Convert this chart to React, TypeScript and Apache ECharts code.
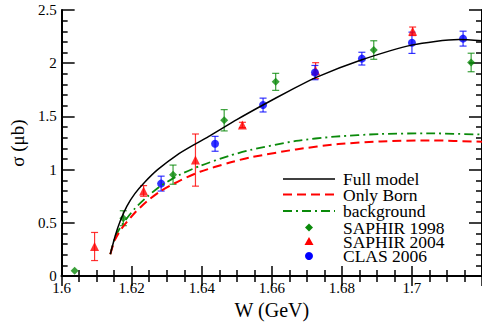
import React, { useEffect, useRef } from "react";
import * as echarts from "echarts";

// ---- Data ----
const FULL_W = [1.6139, 1.6153, 1.6167, 1.6186, 1.6209, 1.6237, 1.6274, 1.633, 1.6386, 1.6423, 1.65, 1.6576, 1.665, 1.6725, 1.6855, 1.6999, 1.7134, 1.72];
const FULL_S = [0.206, 0.379, 0.515, 0.655, 0.775, 0.882, 1.0, 1.14, 1.25, 1.318, 1.47, 1.61, 1.74, 1.865, 2.03, 2.17, 2.222, 2.21];

const BORN_W = [1.6139, 1.6152, 1.6172, 1.6209, 1.6246, 1.6283, 1.6339, 1.6395, 1.6478, 1.6539, 1.6669, 1.679, 1.6911, 1.705, 1.72];
const BORN_S = [0.206, 0.34, 0.45, 0.595, 0.71, 0.8, 0.9, 0.98, 1.065, 1.115, 1.19, 1.24, 1.265, 1.275, 1.262];

const BG_W = [1.6139, 1.6152, 1.6172, 1.6209, 1.6246, 1.6283, 1.6339, 1.6395, 1.6478, 1.6539, 1.6669, 1.678, 1.6911, 1.705, 1.72];
const BG_S = [0.206, 0.36, 0.48, 0.635, 0.75, 0.848, 0.955, 1.035, 1.13, 1.185, 1.27, 1.31, 1.335, 1.341, 1.33];

const S98_W = [1.6037, 1.6176, 1.6318, 1.6464, 1.6611, 1.6891, 1.7169];
const S98_S = [0.05, 0.544, 0.953, 1.464, 1.825, 2.124, 2.007];
const S98_E = [0, 0.07, 0.09, 0.1, 0.08, 0.087, 0.087];

const S04_W = [1.6094, 1.6234, 1.6382, 1.6516, 1.6725, 1.7002];
const S04_S = [0.278, 0.8, 1.09, 1.42, 1.93, 2.3];
const S04_E = [0.132, 0.05, 0.245, 0.025, 0.075, 0.04];

const CLAS_W = [1.6284, 1.6438, 1.6575, 1.6723, 1.6857, 1.7, 1.7146];
const CLAS_S = [0.869, 1.243, 1.607, 1.912, 2.043, 2.192, 2.231];
const CLAS_E = [0.07, 0.07, 0.065, 0.067, 0.06, 0.1, 0.07];

const X_MIN = 1.6, X_MAX = 1.72, X_STEP = 0.02;
const Y_MIN = 0, Y_MAX = 2.5, Y_STEP = 0.5;

const LEGEND_LABELS = ["Full model", "Only Born", "background", "SAPHIR 1998", "SAPHIR 2004", "CLAS 2006"];

const GREEN = "#0a8a0a";
const RED = "#ff0000";
const BLUE = "#0000ff";
const FONT = "'Liberation Serif', 'Times New Roman', 'DejaVu Serif', serif";

const zip = (a: number[], b: number[]) => a.map((v, i) => [v, b[i]]);
const errData = (w: number[], s: number[], e: number[]) =>
  w.map((v, i) => [v, s[i] - e[i], s[i] + e[i]]).filter((_, i) => e[i] > 0);

function errSeries(data: number[][], color: string) {
  return {
    type: "custom",
    xAxisIndex: 0,
    yAxisIndex: 0,
    silent: true,
    encode: { x: 0, y: [1, 2] },
    data,
    renderItem: (params: any, api: any) => {
      const x = api.value(0);
      const lo = api.coord([x, api.value(1)]);
      const hi = api.coord([x, api.value(2)]);
      const hw = 3.5;
      const style = { stroke: color, lineWidth: 1.2, opacity: 0.8 };
      return {
        type: "group",
        children: [
          { type: "line", shape: { x1: lo[0], y1: lo[1], x2: hi[0], y2: hi[1] }, style },
          { type: "line", shape: { x1: lo[0] - hw, y1: lo[1], x2: lo[0] + hw, y2: lo[1] }, style },
          { type: "line", shape: { x1: hi[0] - hw, y1: hi[1], x2: hi[0] + hw, y2: hi[1] }, style },
        ],
      };
    },
  };
}

export default function App() {
  const ref = useRef<HTMLDivElement>(null);
  useEffect(() => {
    if (!ref.current) return;
    const chart = echarts.init(ref.current, null, { renderer: "svg" });
    const axisLine = { show: true, lineStyle: { color: "#000", width: 2 } };
    const xTick = { show: true, inside: true, length: 10, lineStyle: { color: "#000", width: 1.5 } };
    const yTick = { show: true, inside: true, length: 13, lineStyle: { color: "#000", width: 1.5 } };
    const minor = (n: number) => ({ show: true, splitNumber: n, length: 6, lineStyle: { color: "#000", width: 1.5 } });
    const label = { fontFamily: FONT, fontSize: 15, color: "#000" };

    const legendRows = [179, 194.5, 211, 227.5, 241.5, 256];
    const lx1 = 283, lx2 = 335, mx = 309, tx = 343;
    const graphic: any[] = [
      { type: "line", shape: { x1: lx1, y1: legendRows[0], x2: lx2, y2: legendRows[0] }, style: { stroke: "#000", lineWidth: 1.5 } },
      { type: "line", shape: { x1: lx1, y1: legendRows[1], x2: lx2, y2: legendRows[1] }, style: { stroke: RED, lineWidth: 2, lineDash: [9, 5] } },
      { type: "line", shape: { x1: lx1, y1: legendRows[2], x2: lx2, y2: legendRows[2] }, style: { stroke: GREEN, lineWidth: 1.8, lineDash: [9, 4, 2, 4] } },
      { type: "polygon", shape: { points: [[mx, legendRows[3] - 4], [mx + 4, legendRows[3]], [mx, legendRows[3] + 4], [mx - 4, legendRows[3]]] }, style: { fill: GREEN } },
      { type: "polygon", shape: { points: [[mx, legendRows[4] - 4.5], [mx + 4.5, legendRows[4] + 3.5], [mx - 4.5, legendRows[4] + 3.5]] }, style: { fill: RED } },
      { type: "circle", shape: { cx: mx, cy: legendRows[5], r: 4 }, style: { fill: BLUE } },
    ];
    LEGEND_LABELS.forEach((t, i) => {
      graphic.push({
        type: "text",
        x: tx,
        y: legendRows[i],
        style: { text: t, fontFamily: FONT, fontSize: 17.5, lineHeight: 14, fill: "#000", verticalAlign: "middle", textVerticalAlign: "middle" },
      });
    });

    const option: any = {
      animation: false,
      textStyle: { fontFamily: FONT },
      grid: { left: 53.5, top: 10, right: -2, bottom: 36, containLabel: false },
      xAxis: [
        {
          type: "value", position: "bottom", min: X_MIN, max: X_MAX, interval: X_STEP,
          axisLine, axisTick: xTick, minorTick: minor(4), splitLine: { show: false },
          axisLabel: {
            ...label, margin: 4, showMaxLabel: false,
            formatter: (v: number) => (v > 1.715 ? "" : String(+v.toFixed(2))),
          },
          name: "W (GeV)", nameLocation: "middle", nameGap: 20,
          nameTextStyle: { fontFamily: FONT, fontSize: 20, color: "#000" },
        },
        {
          type: "value", position: "top", min: X_MIN, max: X_MAX, interval: X_STEP,
          axisLine, axisTick: xTick, minorTick: minor(4), splitLine: { show: false },
          axisLabel: { show: false },
        },
      ],
      yAxis: [
        {
          type: "value", position: "left", min: Y_MIN, max: Y_MAX, interval: Y_STEP,
          axisLine, axisTick: yTick, minorTick: minor(5), splitLine: { show: false },
          axisLabel: { ...label, margin: 5, formatter: (v: number) => String(+v.toFixed(1)) },
          name: "σ (μb)", nameLocation: "middle", nameGap: 27,
          nameTextStyle: { fontFamily: FONT, fontSize: 19, color: "#000" },
        },
        {
          type: "value", position: "right", min: Y_MIN, max: Y_MAX, interval: Y_STEP,
          axisLine, axisTick: yTick, minorTick: minor(5), splitLine: { show: false },
          axisLabel: { show: false },
        },
      ],
      series: [
        {
          name: "background", type: "line", data: zip(BG_W, BG_S), showSymbol: false, smooth: 0.25,
          lineStyle: { color: GREEN, width: 1.8, type: [9, 4, 2, 4] }, silent: true,
        },
        {
          name: "Only Born", type: "line", data: zip(BORN_W, BORN_S), showSymbol: false, smooth: 0.25,
          lineStyle: { color: RED, width: 2, type: [9, 5] }, silent: true,
        },
        {
          name: "Full model", type: "line", data: zip(FULL_W, FULL_S), showSymbol: false, smooth: 0.25,
          lineStyle: { color: "#000", width: 1.5 }, silent: true,
        },
        errSeries(errData(S98_W, S98_S, S98_E), GREEN),
        { name: "SAPHIR 1998", type: "scatter", data: zip(S98_W, S98_S), symbol: "diamond", symbolSize: 8, itemStyle: { color: GREEN } },
        errSeries(errData(S04_W, S04_S, S04_E), RED),
        { name: "SAPHIR 2004", type: "scatter", data: zip(S04_W, S04_S), symbol: "triangle", symbolSize: 9, itemStyle: { color: RED } },
        errSeries(errData(CLAS_W, CLAS_S, CLAS_E), BLUE),
        { name: "CLAS 2006", type: "scatter", data: zip(CLAS_W, CLAS_S), symbol: "circle", symbolSize: 8, itemStyle: { color: BLUE } },
      ],
      graphic,
    };
    chart.setOption(option);
    return () => chart.dispose();
  }, []);
  return <div ref={ref} style={{ position: "fixed", left: 0, top: 0, width: 482, height: 325, background: "#fff" }} />;
}
